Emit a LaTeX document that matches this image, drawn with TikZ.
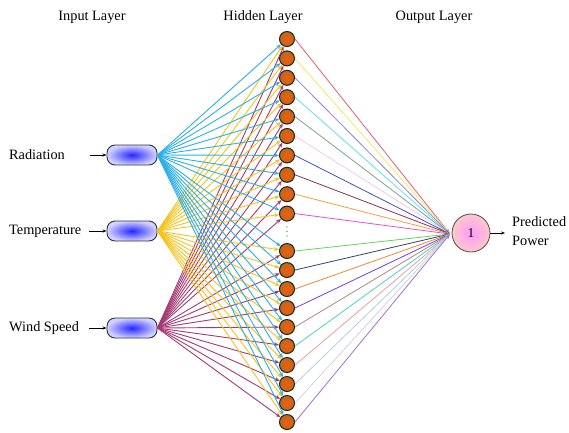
\documentclass[tikz,border=0pt]{standalone}
\usepackage{fontspec}
\setmainfont{Liberation Serif}
\usetikzlibrary{arrows.meta}
\definecolor{radc}{HTML}{2AB0E6}
\definecolor{tempc}{HTML}{F5C31C}
\definecolor{windc}{HTML}{A23A74}
\tikzset{
  lbl/.style={font=\fontsize{14.3}{16}\selectfont, inner sep=0pt},
  inbox/.style={draw=black!80, line width=0.9pt, rounded corners=8pt, minimum width=50pt, minimum height=20pt, inner sep=0pt, shading=radial, inner color=blue!85!white, outer color=blue!18!white},
  hid/.style={circle, draw=black!75!brown, line width=1pt, minimum size=15pt, inner sep=0pt, shading=radial, inner color=orange!70!red, outer color=brown!80!orange!85!black},
  outn/.style={circle, draw=black!70, line width=0.8pt, minimum size=38pt, inner sep=0pt, shading=radial, inner color=magenta!40!white, outer color=pink!85!white},
  ilink/.style={line width=0.9pt, -{Stealth[length=5pt,width=4pt]}},
  olink/.style={line width=0.8pt, -{Stealth[length=5pt,width=4pt]}},
  feed/.style={line width=0.7pt, -{Stealth[length=4pt,width=3pt]}},
  dotm/.style={circle, fill=black!70, inner sep=0pt, minimum size=1.3pt}
}
\begin{document}
\begin{tikzpicture}[x=1pt,y=-1pt]
\useasboundingbox (0,0) rectangle (569,432);
% titles
\node[lbl] (t1) at (92,17) {Input Layer};
\node[lbl] (t2) at (263,17) {Hidden Layer};
\node[lbl] (t3) at (434,17) {Output Layer};
% input nodes
\node[inbox] (r) at (132,155) {};
\node[inbox] (t) at (132,231) {};
\node[inbox] (w) at (132,328) {};
\node[lbl, anchor=west] (lr) at (9,155) {Radiation};
\node[lbl, anchor=west] (lt) at (9,231) {Temperature};
\node[lbl, anchor=west] (lw) at (9,328) {Wind Speed};
\coordinate (ar) at (90,155);
\coordinate (at) at (89,231);
\coordinate (aw) at (89,328);
\draw[feed] (ar) -- (r.west);
\draw[feed] (at) -- (t.west);
\draw[feed] (aw) -- (w.west);
% hidden nodes
\foreach \i/\y in {1/39,2/58.4,3/77.8,4/97.2,5/116.6,6/136,7/155.4,8/174.8,9/194.2,10/213.6,
  11/251,12/270,13/289,14/308,15/327,16/346,17/365,18/384,19/403,20/422}
  \node[hid] (h\i) at (287,\y) {};
\node[dotm] (d1) at (287,227) {};
\node[dotm] (d2) at (287,231.5) {};
\node[dotm] (d3) at (287,236) {};
% output node
\node[outn] (o) at (471,233) {\fontsize{13.5}{14}\selectfont 1};
\coordinate (oin) at (450,234);
\coordinate (oout) at (505,233);
\draw[feed] (o.east) -- (oout);
\node[lbl, anchor=north west, align=left, font=\fontsize{14.3}{19}\selectfont] (pp) at (512,216) {Predicted\\Power};
% input to hidden
\foreach \i in {1,...,20} {
  \draw[ilink, windc] (w.east) -- (h\i);
}
\foreach \i in {1,...,20} {
  \draw[ilink, tempc] (t.east) -- (h\i);
}
\foreach \i in {1,...,20} {
  \draw[ilink, radc] (r.east) -- (h\i);
}
% hidden to output
\foreach \i/\c in {1/E06070,2/F0EC60,3/8E80D2,4/5EE0F0,5/80A090,6/F2C8F2,7/4050C0,8/8E3050,9/F0A040,10/E050E0,
  11/5CD65C,12/2F4560,13/F0883A,14/7040E0,15/B08880,16/50D0C0,17/E8A0A0,18/B0D0E0,19/D4D0E0,20/A070D0} {
  \definecolor{cc}{HTML}{\c}
  \draw[olink, cc] (h\i.east) -- (oin);
}
\end{tikzpicture}
\end{document}
